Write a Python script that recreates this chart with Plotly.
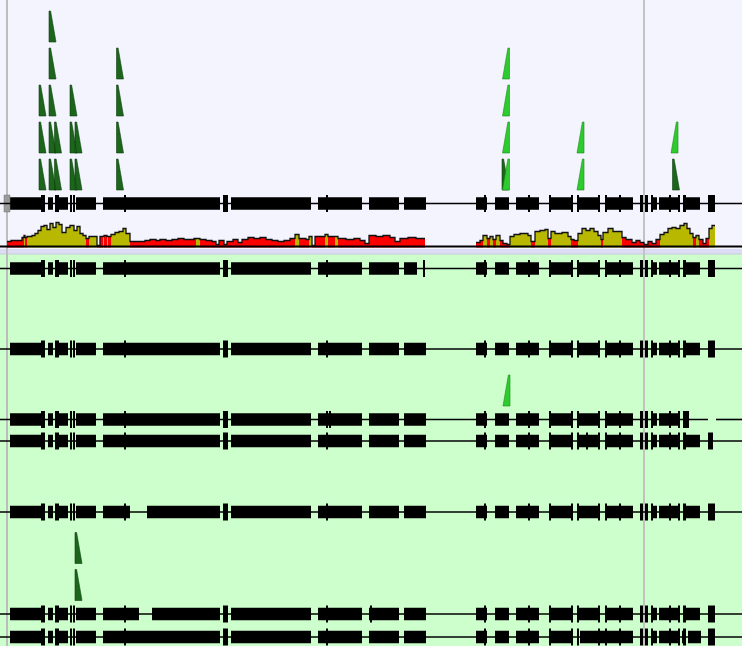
import plotly.graph_objects as go

# ---------------- data ----------------
track_names = ["ref", "m1", "m2", "m3", "m4", "m5", "m6", "m7"]

base_exons = [(10, 45), (48, 53), (55, 68), (70, 71.5), (73, 74.5), (76, 96), (103, 220),
              (223, 228), (231, 311), (318, 362), (369, 399), (404, 426), (476, 487),
              (495, 509), (516, 539), (549, 573), (577, 600), (605, 633), (640, 643),
              (645, 648), (651, 657), (659, 680), (683, 700), (708, 715)]
base_ticks = [(41, 45), (55, 59), (70, 71.5), (73, 74.5), (124, 126), (223, 228), (326, 328),
              (484, 486), (528, 530), (549, 551), (571, 573), (577, 579), (598, 600),
              (605, 607), (619, 621), (640, 643), (645, 648), (651, 653), (669, 671),
              (678, 680), (683, 686), (708, 715)]

exons_m1 = [e if e != (404, 426) else (404, 417) for e in base_exons]
ticks_m1 = base_ticks + [(423.5, 425)]
exons_m3 = [e for e in base_exons if e[1] <= 680] + [(683, 689)]
ticks_m3 = [t for t in base_ticks if t[1] <= 681] + [(329, 331), (683, 689)]
exons_m4 = [e for e in base_exons if e != (708, 715)] + [(708, 713)]
ticks_m4 = [t for t in base_ticks if t != (708, 715)] + [(586, 588), (708, 713)]
exons_m5 = [e for e in base_exons if e != (103, 220)] + [(103, 130), (147, 220)]
exons_m6 = [e for e in base_exons if e != (103, 220)] + [(103, 139), (152, 220)]
ticks_m6 = base_ticks + [(370, 372)]
exons_m7 = [e for e in base_exons if e not in [(577, 600), (605, 633), (683, 700)]] + \
           [(580, 633), (682, 683), (688, 701)]

track_exons = [base_exons, exons_m1, base_exons, exons_m3, exons_m4, exons_m5, exons_m6, exons_m7]
track_ticks = [base_ticks, ticks_m1, base_ticks, ticks_m3, ticks_m4, base_ticks, ticks_m6, base_ticks]
track_lines = [[(0, 742)], [(0, 742)], [(0, 742)], [(0, 708), (716, 742)],
               [(0, 742)], [(0, 742)], [(0, 742)], [(0, 742)]]

# read-alignment triangles: track, position, stack level, strand
tri_track = [0]*3 + [0]*5 + [0]*2 + [0]*3 + [0]*2 + [0]*4 + [0, 0] + [0]*4 + [0]*2 + [0] + [3] + [6, 6]
tri_pos = [39]*3 + [49]*5 + [54.5]*2 + [70]*3 + [75]*2 + [116.5]*4 + [502, 672.5] + \
          [509.5]*4 + [584]*2 + [678] + [510] + [75, 75]
tri_level = [1, 2, 3] + [1, 2, 3, 4, 5] + [1, 2] + [1, 2, 3] + [1, 2] + [1, 2, 3, 4] + [1, 1] + \
            [1, 2, 3, 4] + [1, 2] + [2] + [1] + [1, 2]
tri_strand = ["+"]*3 + ["+"]*5 + ["+"]*2 + ["+"]*3 + ["+"]*2 + ["+"]*4 + ["+", "+"] + \
             ["-"]*4 + ["-"]*2 + ["-"] + ["-"] + ["+", "+"]

# coverage segments: start, depth, class (r = low, y = high); ends follow the next start
cov_start = [7, 11, 22, 24, 25, 27, 32, 35, 38, 41, 44, 47, 50, 53, 56, 59, 62, 66, 70, 74, 77, 80, 83,
             86, 89, 91, 97, 100, 103, 104, 107, 108, 111, 115, 119, 123, 126,
             130, 136, 145, 150, 156, 160, 166, 172, 178, 184, 190, 194, 196, 200, 206, 212, 216,
             219, 224, 227, 233, 238, 242, 248, 254, 260, 266, 272, 278, 284, 290, 295, 299, 306,
             309, 312, 315, 325, 328, 335, 338, 346, 354, 360, 365, 369, 376, 383, 390, 395, 400,
             408, 416,
             476, 480, 483, 487, 490, 493, 496, 500, 503, 507, 510, 514, 520, 528, 531, 535, 540,
             545, 548, 551, 555, 562, 568, 571, 574, 578, 582, 586, 590, 594, 598, 601, 603, 608,
             613, 617, 622, 626, 632, 636, 640, 644, 648, 652, 656, 660, 664, 668, 672, 676, 680,
             684, 687, 690, 693, 696, 699, 703, 706, 709, 712]
cov_block_ends = {416: 425, 712: 715}
cov_depth = [6, 7, 10, 12, 10, 11, 12, 14, 17, 21, 22, 18, 24, 20, 25, 23, 15, 20, 22, 17, 21, 14, 12,
             9, 11, 11, 2, 11, 11, 12, 11, 11, 13, 15, 16, 19, 14,
             6, 6, 7, 8, 7, 8, 7, 8, 9, 8, 8, 9, 9, 8, 7, 6, 3,
             7, 3, 6, 8, 5, 8, 10, 9, 10, 8, 7, 6, 7, 9, 13, 9, 8,
             11, 2, 11, 13, 11, 11, 9, 8, 9, 7, 4, 12, 11, 12, 10, 6, 9,
             10, 9,
             5, 7, 12, 9, 11, 8, 12, 7, 4, 3, 11, 13, 14, 12, 6, 16, 17,
             18, 9, 16, 14, 15, 11, 8, 7, 14, 19, 17, 19, 16, 12, 8, 15, 19,
             16, 16, 10, 8, 5, 7, 5, 3, 6, 4, 8, 13, 15, 19, 20, 19, 22,
             24, 19, 14, 10, 12, 8, 4, 9, 19, 22]
cov_class = list("rrryryyyyyyyyyyyyyyyyyy") + list("ryyrryryryyyyy") + \
            list("rrrrrrrrrrrryrrrr") + list("rrrrrrrrrrrrrryrr") + list("yrryryrrrrrrrrrrr") + list("rr") + \
            list("rryryryrrryyyyryy") + list("yryyyyrryyyyyyryy") + list("yyrrrrrrrrryyyyyy") + \
            list("yyyryrrryy")

cov_end = [cov_block_ends.get(s, n) for s, n in zip(cov_start, cov_start[1:] + [None])]

# ---------------- layout constants ----------------
W, H = 742, 646
track_y = [203.5, 268.5, 349, 419.5, 441, 512, 614, 637]
EXON_H, TICK_H = 12.5, 17
COV_BASE = 247.5
TRI_H, TRI_W, TRI_TIP, TRI_GAP, TRI_STEP = 31, 7, 1.6, 13.5, 37
DARK, LIGHT = "#1c661c", "#2ecb2e"

fig = go.Figure()

fig.add_trace(go.Scatter(x=[0, W], y=[COV_BASE - 1, COV_BASE - 1], mode="lines",
                         line=dict(color="black", width=2), hoverinfo="skip"))
fig.add_trace(go.Bar(
    x=[(s + e) / 2 for s, e in zip(cov_start, cov_end)],
    y=[-d for d in cov_depth], base=COV_BASE,
    width=[e - s for s, e in zip(cov_start, cov_end)],
    marker=dict(color=["#ff0000" if c == "r" else "#b8b800" for c in cov_class], line_width=0),
    hoverinfo="skip"))
ox, oy = [], []
for i, (s, e, d) in enumerate(zip(cov_start, cov_end, cov_depth)):
    if i > 0 and s != cov_end[i - 1]:
        ox.append(cov_end[i - 1]); oy.append(COV_BASE - cov_depth[i - 1])
        ox.append(None); oy.append(None)
    ox.append(s); oy.append(COV_BASE - d)
ox.append(cov_end[-1]); oy.append(COV_BASE - cov_depth[-1])
fig.add_trace(go.Scatter(x=ox, y=oy, mode="lines", line=dict(color="#111111", width=1.3, shape="hv"),
                         hoverinfo="skip"))

lx, ly = [], []
for ty, segs in zip(track_y, track_lines):
    for a, b in segs:
        lx += [a, b, None]; ly += [ty, ty, None]
fig.add_trace(go.Scatter(x=lx, y=ly, mode="lines", line=dict(color="black", width=1.6), hoverinfo="skip"))

ex_y, ex_len, ex_base = [], [], []
for ty, ex in zip(track_y, track_exons):
    for a, b in ex:
        ex_y.append(ty); ex_len.append(b - a); ex_base.append(a)
fig.add_trace(go.Bar(orientation="h", y=ex_y, x=ex_len, base=ex_base, width=EXON_H,
                     marker=dict(color="black", line_width=0), hoverinfo="skip"))
tk_y, tk_len, tk_base = [], [], []
for ty, tk in zip(track_y, track_ticks):
    for a, b in tk:
        tk_y.append(ty); tk_len.append(b - a); tk_base.append(a)
fig.add_trace(go.Bar(orientation="h", y=tk_y, x=tk_len, base=tk_base, width=TICK_H,
                     marker=dict(color="black", line_width=0), hoverinfo="skip"))
fig.add_trace(go.Bar(orientation="h", y=[track_y[0]], x=[6], base=[4], width=TICK_H,
                     marker=dict(color="#9a9a9a", line=dict(color="#777777", width=0.5)), hoverinfo="skip"))

for strand, col, edge in [("+", DARK, "#0f3f0f"), ("-", LIGHT, "#1a8f1a")]:
    px, py = [], []
    for t, p, lv, s in zip(tri_track, tri_pos, tri_level, tri_strand):
        if s != strand:
            continue
        bot = track_y[t] - TRI_GAP - TRI_STEP * (lv - 1)
        top = bot - TRI_H
        if s == "+":
            px += [p, p + TRI_TIP, p + TRI_W, p, p, None]
        else:
            px += [p, p - TRI_TIP, p - TRI_W, p, p, None]
        py += [top, top, bot, bot, top, None]
    fig.add_trace(go.Scatter(x=px, y=py, mode="lines", fill="toself", fillcolor=col,
                             line=dict(color=edge, width=0.6), hoverinfo="skip"))

shapes = [
    dict(type="rect", xref="paper", yref="paper", x0=0, x1=1, y0=0, y1=1,
         fillcolor="#ccffcc", line_width=0, layer="below"),
    dict(type="rect", xref="x", yref="y", x0=0, x1=W, y0=0, y1=249,
         fillcolor="#f4f4ff", line_width=0, layer="below"),
    dict(type="rect", xref="x", yref="y", x0=0, x1=W, y0=249, y1=254,
         fillcolor="#dcdcf4", line_width=0, layer="below"),
    dict(type="line", xref="x", yref="y", x0=0, x1=W, y0=254, y1=254,
         line=dict(color="#c8c8dc", width=1), layer="below"),
    dict(type="line", xref="x", yref="y", x0=7, x1=7, y0=0, y1=H,
         line=dict(color="#bdbdbd", width=2), layer="below"),
    dict(type="line", xref="x", yref="y", x0=644, x1=644, y0=0, y1=H,
         line=dict(color="#c2c2c2", width=2), layer="below"),
]

fig.update_layout(
    width=W, height=H, margin=dict(l=0, r=0, t=0, b=0),
    paper_bgcolor="#ccffcc", plot_bgcolor="rgba(0,0,0,0)",
    showlegend=False, barmode="overlay", hovermode=False, shapes=shapes,
    xaxis=dict(range=[0, W], visible=False, showgrid=False, zeroline=False, fixedrange=True),
    yaxis=dict(range=[H, 0], visible=False, showgrid=False, zeroline=False, fixedrange=True),
)

fig.write_html("out.html", config={"displayModeBar": False},
               post_script="document.body.style.margin='0px';")
